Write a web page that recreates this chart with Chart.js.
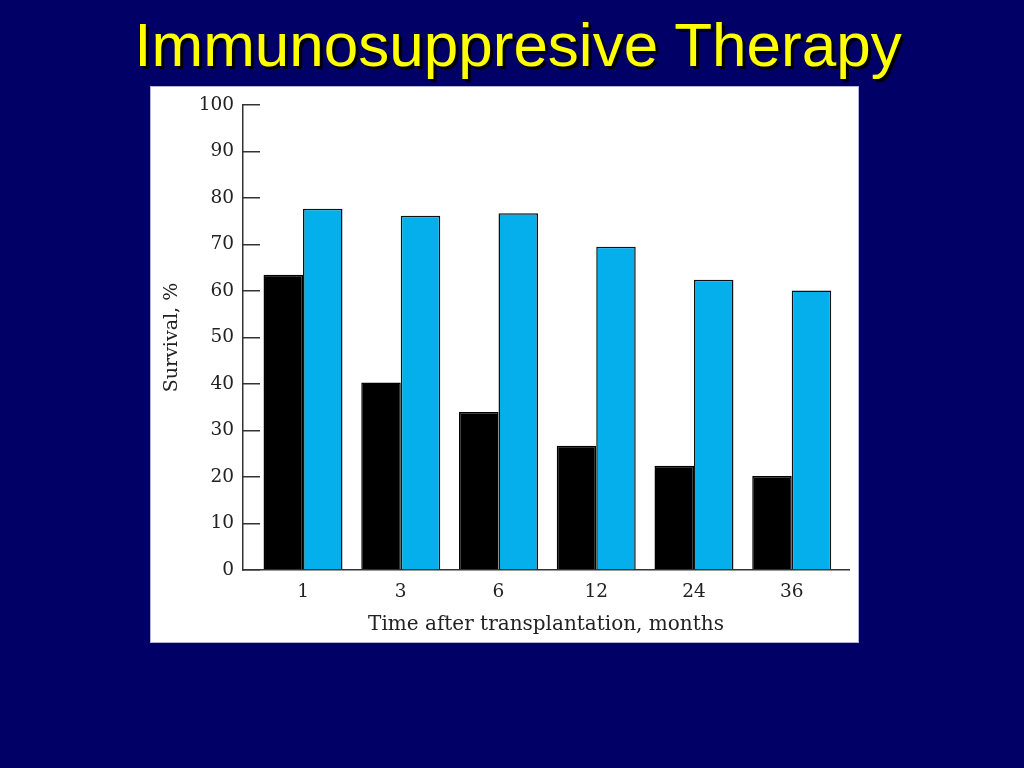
<!DOCTYPE html>
<html>
<head>
<meta charset="utf-8">
<script src="https://cdn.jsdelivr.net/npm/chart.js@4/dist/chart.umd.min.js"></script>
<style>
  html, body { margin: 0; padding: 0; width: 1024px; height: 768px; overflow: hidden; background: #000066; }
  #title {
    position: absolute; left: 0; top: 14px; width: 1024px; padding-left: 12px; box-sizing: border-box;
    text-align: center; font-family: "Liberation Sans", Arial, sans-serif; font-size: 62px; line-height: 62px;
    color: #ffff00; text-shadow: 3px 3px 1px #000000; white-space: nowrap;
  }
  #panel {
    position: absolute; left: 150px; top: 86px; width: 709px; height: 557px;
    background: #ffffff; box-sizing: border-box; border: 1px solid #b4b4d4;
  }
  #c { position: absolute; left: -1px; top: -1px; }
</style>
</head>
<body>
<div id="title">Immunosuppresive Therapy</div>
<div id="panel"><canvas id="c" width="709" height="557"></canvas></div>
<script>
const categories = ["1", "3", "6", "12", "24", "36"];
const seriesBlack = [63.5, 40.3, 34.0, 26.7, 22.4, 20.2];
const seriesBlue  = [77.7, 76.2, 76.7, 69.5, 62.4, 60.1];
const yTicks = [0, 10, 20, 30, 40, 50, 60, 70, 80, 90, 100];
const xTitle = "Time after transplantation, months";
const yTitle = "Survival, %";

const toPoints = arr => arr.map((v, i) => ({ x: i, y: v }));
const serif = "'DejaVu Serif', 'Liberation Serif', serif";

new Chart(document.getElementById('c'), {
  type: 'bar',
  data: {
    datasets: [
      { label: 'A', data: toPoints(seriesBlack), backgroundColor: '#000000', borderColor: '#000000', borderWidth: 1.5 },
      { label: 'B', data: toPoints(seriesBlue), backgroundColor: '#04AFEB', borderColor: '#111111', borderWidth: 1.5 }
    ]
  },
  options: {
    responsive: false,
    animation: false,
    layout: { padding: { top: 19, right: 10, bottom: 0, left: 0 } },
    plugins: { legend: { display: false }, tooltip: { enabled: false } },
    datasets: { bar: { categoryPercentage: 0.808, barPercentage: 1.0 } },
    scales: {
      x: {
        type: 'linear',
        offset: false,
        min: -0.614, max: 5.586,
        afterFit: s => { s.height = 73; s.paddingLeft = 0; s.paddingRight = 0; },
        grid: { display: false, offset: false },
        border: { display: true, color: '#333333', width: 1.5 },
        ticks: {
          stepSize: 1, includeBounds: false, padding: 3, color: '#222222',
          font: { family: serif, size: 18.5 },
          callback: v => (Number.isInteger(v) && categories[v] !== undefined) ? categories[v] : ''
        },
        title: { display: true, text: xTitle, color: '#222222', font: { family: serif, size: 20 }, padding: { top: 0, bottom: 6 } }
      },
      y: {
        min: 0, max: 100,
        afterFit: s => { s.width = 93; s.paddingTop = 0; s.paddingBottom = 0; },
        afterBuildTicks: s => { s.ticks = yTicks.map(v => ({ value: v })); },
        grid: { drawOnChartArea: false, drawTicks: true, tickLength: -17, color: '#333333', lineWidth: 1.5 },
        border: { display: true, color: '#333333', width: 1.5 },
        ticks: { padding: 26, color: '#222222', font: { family: serif, size: 18.5 } },
        title: { display: true, text: yTitle, color: '#222222', font: { family: serif, size: 19 }, padding: { top: 11, bottom: 0 } }
      }
    }
  }
});
</script>
</body>
</html>
